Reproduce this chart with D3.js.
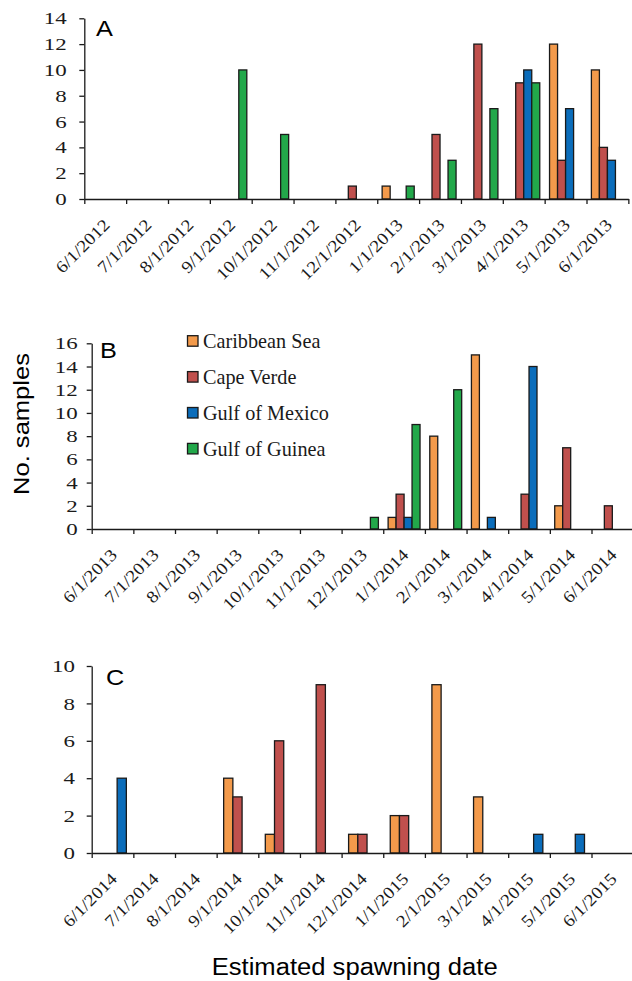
<!DOCTYPE html>
<html>
<head>
<meta charset="utf-8">
<script src="https://cdn.jsdelivr.net/npm/d3@7/dist/d3.min.js"></script>
<style>
body{margin:0;background:#fff;}
svg{display:block;}
</style>
</head>
<body>
<script>
// spawning date histograms, 3 panels
const W = 632, H = 981;

const seriesNames = ["Caribbean Sea", "Cape Verde", "Gulf of Mexico", "Gulf of Guinea"];
const seriesColors = ["#F39A4B", "#C0504D", "#0B6DBB", "#22A84A"];

// panel A
const monthsA = ["6/1/2012","7/1/2012","8/1/2012","9/1/2012","10/1/2012","11/1/2012","12/1/2012",
  "1/1/2013","2/1/2013","3/1/2013","4/1/2013","5/1/2013","6/1/2013"];
const caribbeanA = [0,0,0,0,0,0,0,1,0,0,0,12,10];
const capeVerdeA = [0,0,0,0,0,0,1,0,5,12,9,3,4];
const mexicoA    = [0,0,0,0,0,0,0,0,0,0,10,7,3];
const guineaA    = [0,0,0,10,5,0,0,1,3,7,9,0,0];

// panel B
const monthsB = ["6/1/2013","7/1/2013","8/1/2013","9/1/2013","10/1/2013","11/1/2013","12/1/2013",
  "1/1/2014","2/1/2014","3/1/2014","4/1/2014","5/1/2014","6/1/2014"];
const caribbeanB = [0,0,0,0,0,0,0,1,8,15,0,2,0];
const capeVerdeB = [0,0,0,0,0,0,0,3,0,0,3,7,2];
const mexicoB    = [0,0,0,0,0,0,0,1,0,1,14,0,0];
const guineaB    = [0,0,0,0,0,0,1,9,12,0,0,0,0];

// panel C (no Gulf of Guinea)
const monthsC = ["6/1/2014","7/1/2014","8/1/2014","9/1/2014","10/1/2014","11/1/2014","12/1/2014",
  "1/1/2015","2/1/2015","3/1/2015","4/1/2015","5/1/2015","6/1/2015"];
const caribbeanC = [0,0,0,4,1,0,1,2,9,3,0,0,0];
const capeVerdeC = [0,0,0,3,6,9,1,2,0,0,0,0,0];
const mexicoC    = [4,0,0,0,0,0,0,0,0,0,1,1,0];

const svg = d3.select("body").append("svg").attr("width", W).attr("height", H);

const serif = "'Liberation Serif','Times New Roman',serif";
const sans = "'Liberation Sans',Arial,sans-serif";
const ink = "#1a1a1a";

function drawPanel(p) {
  const g = svg.append("g");
  const n = p.months.length;
  const right = p.left + n * p.step;
  const x = d3.scaleBand().domain(p.months).range([p.left, right]);
  const xi = d3.scaleLinear().domain([0, n]).range([p.left, right]);
  const inner = d3.scaleBand().domain(p.series.map(s => s.name))
    .range([0, x.bandwidth()]).paddingInner(0).paddingOuter(p.pad);
  const y = d3.scaleLinear().domain([0, p.yMax]).range([p.bottom, p.top]);

  // bars
  const bars = [];
  p.series.forEach(s => s.values.forEach((v, i) => {
    if (v > 0) bars.push({name: s.name, color: s.color, month: p.months[i], v: v});
  }));
  g.selectAll("rect.bar").data(bars).join("rect")
    .attr("class", "bar")
    .attr("x", d => x(d.month) + inner(d.name))
    .attr("y", d => y(d.v))
    .attr("width", inner.bandwidth())
    .attr("height", d => y(0) - y(d.v))
    .attr("fill", d => d.color)
    .attr("stroke", ink).attr("stroke-width", 1.3);

  // y axis
  const ya = g.append("g").attr("transform", "translate(" + p.left + ",0)")
    .call(d3.axisLeft(y).tickValues(d3.range(0, p.yMax + 1, 2)).tickSize(5).tickSizeOuter(0));
  ya.select(".domain").attr("stroke", ink).attr("stroke-width", 1.3);
  ya.selectAll(".tick line").attr("stroke", ink).attr("stroke-width", 1.3);
  ya.selectAll(".tick text")
    .attr("x", null).attr("dy", "0.33em")
    .attr("transform", "translate(" + (-p.yGap) + ",0) scale(1.35,1)")
    .attr("text-anchor", "end")
    .style("font-family", serif).style("font-size", "17px").attr("fill", ink);

  // x axis (ticks at month boundaries)
  const xa = g.append("g").attr("transform", "translate(0," + p.bottom + ")")
    .call(d3.axisBottom(xi).tickValues(d3.range(0, n + 1)).tickFormat("").tickSize(5).tickSizeOuter(0));
  xa.select(".domain").attr("stroke", ink).attr("stroke-width", 1.3);
  xa.selectAll(".tick line").attr("stroke", ink).attr("stroke-width", 1.3);

  g.selectAll("text.mlab").data(p.months).join("text")
    .attr("class", "mlab")
    .attr("transform", d => "translate(" + (x(d) + x.bandwidth() / 2 + 5.5) + "," + (p.bottom + 27) + ") rotate(-45) scale(1.13,1)")
    .attr("text-anchor", "end")
    .style("font-family", serif).style("font-size", "17px").attr("fill", ink)
    .text(d => d);

  // panel letter
  g.append("text")
    .attr("transform", "translate(" + p.letterX + "," + p.letterY + ") scale(1.15,1)")
    .style("font-family", sans).style("font-size", "22px").attr("fill", "#000")
    .text(p.letter);
}

const mk = (vals, k) => ({name: seriesNames[k], color: seriesColors[k], values: vals});

drawPanel({
  letter: "A", letterX: 96, letterY: 36,
  months: monthsA, left: 84.3, step: 41.85, pad: 0.61,
  top: 18.3, bottom: 199, yMax: 14, yGap: 17.6,
  series: [mk(caribbeanA, 0), mk(capeVerdeA, 1), mk(mexicoA, 2), mk(guineaA, 3)]
});
drawPanel({
  letter: "B", letterX: 100, letterY: 358,
  months: monthsB, left: 91.7, step: 41.65, pad: 0.61,
  top: 343.3, bottom: 529, yMax: 16, yGap: 14,
  series: [mk(caribbeanB, 0), mk(capeVerdeB, 1), mk(mexicoB, 2), mk(guineaB, 3)]
});
drawPanel({
  letter: "C", letterX: 106, letterY: 685,
  months: monthsC, left: 91.7, step: 41.65, pad: 0.76,
  top: 666, bottom: 853, yMax: 10, yGap: 16.7,
  series: [mk(caribbeanC, 0), mk(capeVerdeC, 1), mk(mexicoC, 2)]
});

// legend (inside panel B)
const leg = svg.append("g").attr("transform", "translate(187.5,340.7)");
const li = leg.selectAll("g").data(seriesNames).join("g")
  .attr("transform", (d, i) => "translate(0," + (i * 35.9) + ")");
li.append("rect").attr("x", 0).attr("y", -5).attr("width", 10.5).attr("height", 10.5)
  .attr("fill", (d, i) => seriesColors[i]).attr("stroke", ink).attr("stroke-width", 1.3);
li.append("text").attr("transform", "translate(15.5,7.2) scale(0.92,1)")
  .style("font-family", serif).style("font-size", "22px").attr("fill", ink)
  .text(d => d);

// axis titles
svg.append("text")
  .attr("transform", "translate(28.5,424) rotate(-90)")
  .attr("text-anchor", "middle")
  .attr("textLength", 142).attr("lengthAdjust", "spacingAndGlyphs")
  .style("font-family", sans).style("font-size", "22px").attr("fill", "#000")
  .text("No. samples");
svg.append("text")
  .attr("x", 354.7).attr("y", 975)
  .attr("text-anchor", "middle")
  .attr("textLength", 286).attr("lengthAdjust", "spacingAndGlyphs")
  .style("font-family", sans).style("font-size", "23px").attr("fill", "#000")
  .text("Estimated spawning date");
</script>
</body>
</html>
